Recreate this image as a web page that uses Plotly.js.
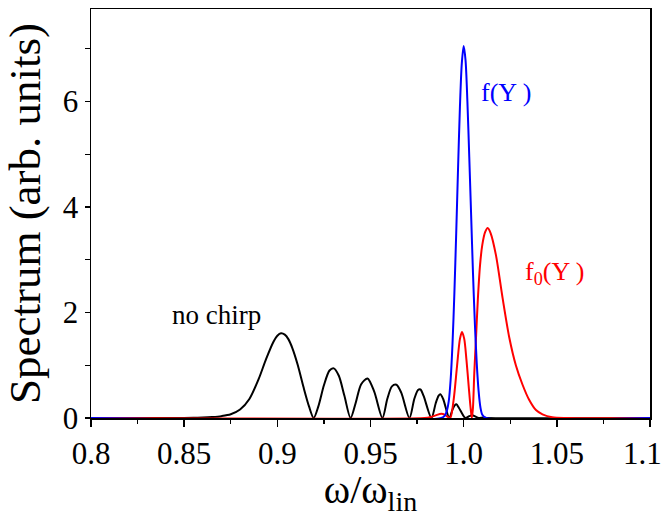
<!DOCTYPE html>
<html>
<head>
<meta charset="utf-8">
<script src="https://cdn.plot.ly/plotly-3.0.1.min.js"></script>
<style>html,body{margin:0;padding:0;background:#fff;}#chart{width:661px;height:517px;}</style>
</head>
<body>
<div id="chart"></div>
<script>
// no chirp spectrum (black)
const noChirpX = [0.80, 0.85, 0.855, 0.860, 0.865, 0.870, 0.875, 0.880, 0.885, 0.890, 0.894, 0.898, 0.900, 0.902, 0.904, 0.906, 0.908, 0.911, 0.914, 0.917, 0.9195,
  0.922, 0.925, 0.928, 0.9303, 0.933, 0.936, 0.9393,
  0.942, 0.945, 0.9484, 0.952, 0.9564,
  0.9590, 0.9615, 0.9639, 0.9665, 0.9709,
  0.9735, 0.9755, 0.9768, 0.9785, 0.9827,
  0.9850, 0.9865, 0.9875, 0.9890, 0.9923,
  0.9940, 0.9952, 0.9961, 0.9975, 1.0009,
  1.0030, 1.0046, 1.0062, 1.0080, 1.0105, 1.0130, 1.10];
const noChirpY = [0, 0, 0.003, 0.008, 0.018, 0.035, 0.07, 0.16, 0.36, 0.74, 1.12, 1.45, 1.56, 1.605, 1.58, 1.49, 1.33, 1.0, 0.59, 0.22, 0,
  0.22, 0.62, 0.90, 0.94, 0.80, 0.42, 0,
  0.28, 0.64, 0.75, 0.50, 0,
  0.36, 0.60, 0.63, 0.48, 0,
  0.36, 0.53, 0.54, 0.42, 0,
  0.28, 0.42, 0.45, 0.36, 0,
  0.16, 0.24, 0.26, 0.19, 0,
  0.035, 0.05, 0.03, 0, 0.01, 0, 0];

// f0(Y) spectrum (red)
const f0X = [0.80, 0.979, 0.982, 0.985, 0.988, 0.990, 0.9915, 0.9928,
  0.9946, 0.9964, 0.9980, 0.9991, 1.0003, 1.0015, 1.0027, 1.0037, 1.0044,
  1.0050, 1.0057, 1.0066, 1.0076, 1.0088, 1.0100, 1.0115, 1.0129, 1.0145,
  1.0173, 1.0209, 1.0245, 1.0280, 1.0316, 1.0352, 1.0388, 1.0423, 1.0475, 1.0550, 1.10];
const f0Y = [0, 0, 0.015, 0.05, 0.08, 0.06, 0.02, 0,
  0.34, 0.97, 1.50, 1.63, 1.50, 1.10, 0.60, 0.20, 0,
  0.20, 0.85, 1.50, 2.24, 2.90, 3.28, 3.52, 3.60, 3.50,
  3.09, 2.27, 1.52, 1.00, 0.63, 0.34, 0.15, 0.07, 0.015, 0, 0];

// f(Y) spectrum (blue)
const fX = [0.80, 0.988, 0.990, 0.991, 0.992, 0.993, 0.994, 0.995, 0.996, 0.997, 0.998, 0.999, 1.000,
  1.001, 1.002, 1.003, 1.004, 1.005, 1.006, 1.007, 1.008, 1.009, 1.010, 1.012, 1.10];
const fY = [0, 0, 0.05, 0.14, 0.32, 0.72, 1.40, 2.35, 3.50, 4.75, 5.90, 6.72, 7.05,
  6.78, 6.00, 4.95, 3.85, 2.75, 1.80, 1.05, 0.52, 0.20, 0.06, 0, 0];

const xTickVals = [0.8, 0.85, 0.9, 0.95, 1.0, 1.05, 1.1];
const xTickText = ['0.8', '0.85', '0.9', '0.95', '1.0', '1.05', '1.1\u00a0\u00a0'];
const yTickVals = [0, 2, 4, 6];

const serif = '"Liberation Serif", serif';

const traces = [
  {x: noChirpX, y: noChirpY, type: 'scatter', mode: 'lines', line: {color: '#000000', width: 2, shape: 'spline', smoothing: 0.8}},
  {x: f0X, y: f0Y, type: 'scatter', mode: 'lines', line: {color: '#ff0000', width: 2, shape: 'spline', smoothing: 0.8}},
  {x: fX, y: fY, type: 'scatter', mode: 'lines', line: {color: '#0000ff', width: 2, shape: 'spline', smoothing: 0.8}}
];

const layout = {
  width: 661, height: 517,
  margin: {l: 91, r: 11, t: 9, b: 99},
  paper_bgcolor: '#ffffff', plot_bgcolor: '#ffffff',
  showlegend: false,
  font: {family: serif, color: '#000000'},
  xaxis: {
    range: [0.8, 1.1], tickmode: 'array', tickvals: xTickVals, ticktext: xTickText,
    showgrid: false, zeroline: false, showline: true, linecolor: '#000', linewidth: 1.5, mirror: true,
    ticks: 'outside', ticklen: 7, tickwidth: 1.5, tickcolor: '#000',
    ticklabeloverflow: 'allow',
    tickfont: {family: serif, size: 31, color: '#000'},
    minor: {dtick: 0.025, tick0: 0.8, ticks: 'outside', ticklen: 4, tickwidth: 1.2, tickcolor: '#000', showgrid: false},
    title: {text: 'ω/ω<sub>lin</sub>', font: {family: serif, size: 40, color: '#000'}, standoff: 6}
  },
  yaxis: {
    range: [0, 7.75], tickmode: 'array', tickvals: yTickVals,
    showgrid: false, zeroline: false, showline: true, linecolor: '#000', linewidth: 1.5, mirror: true,
    ticks: 'outside', ticklen: 5, tickwidth: 1.5, tickcolor: '#000',
    tickfont: {family: serif, size: 31, color: '#000'},
    minor: {dtick: 1, tick0: 0, ticks: 'outside', ticklen: 5, tickwidth: 1.2, tickcolor: '#000', showgrid: false},
    title: {text: 'Spectrum (arb. units)', font: {family: serif, size: 45, color: '#000'}, standoff: 8}
  },
  annotations: [
    {x: 0.8675, y: 1.95, xref: 'x', yref: 'y', text: 'no chirp', showarrow: false, font: {family: serif, size: 27, color: '#000'}},
    {x: 1.0229, y: 6.16, xref: 'x', yref: 'y', text: 'f(Y )', showarrow: false, font: {family: serif, size: 26, color: '#0000ff'}},
    {x: 1.049, y: 2.75, xref: 'x', yref: 'y', text: 'f<sub>0</sub>(Y )', showarrow: false, font: {family: serif, size: 26, color: '#ff0000'}}
  ]
};

Plotly.newPlot('chart', traces, layout, {displayModeBar: false, staticPlot: true});
</script>
</body>
</html>
